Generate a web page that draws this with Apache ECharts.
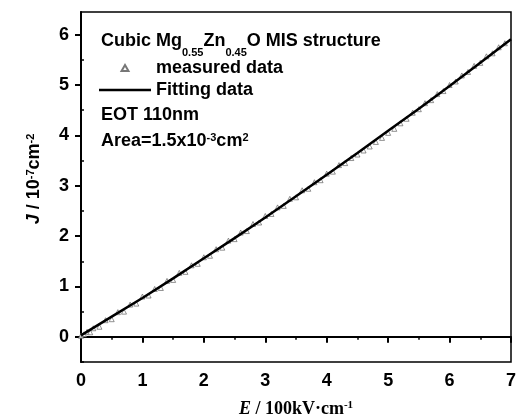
<!DOCTYPE html>
<html><head><meta charset="utf-8">
<script src="https://cdn.jsdelivr.net/npm/echarts@6/dist/echarts.min.js"></script>
<style>html,body{margin:0;padding:0;background:#fff}#c{width:517px;height:415px}</style>
</head><body><div id="c"></div>
<script>
// measured data (E in 100kV/cm, J in 1e-7 A/cm^2)
const eMeasured = [0.00,0.05,0.10,0.15,0.20,0.30,0.40,0.50,0.60,0.70,0.80,0.90,1.00,1.10,1.20,1.30,1.40,1.50,1.60,1.70,1.80,1.90,2.00,2.10,2.20,2.30,2.40,2.50,2.60,2.70,2.80,2.90,3.00,3.10,3.20,3.30,3.40,3.50,3.60,3.70,3.80,3.90,4.00,4.10,4.20,4.30,4.40,4.50,4.60,4.70,4.80,4.90,5.00,5.10,5.20,5.30,5.40,5.50,5.60,5.70,5.80,5.90,6.00,6.10,6.20,6.30,6.40,6.50,6.60,6.70,6.80,6.90];
const jMeasured = [0.02,0.05,0.10,0.09,0.17,0.20,0.33,0.35,0.49,0.50,0.64,0.66,0.80,0.82,0.95,0.97,1.11,1.13,1.27,1.29,1.42,1.45,1.58,1.61,1.74,1.77,1.91,1.94,2.07,2.10,2.24,2.27,2.40,2.44,2.57,2.60,2.74,2.77,2.91,2.94,3.07,3.11,3.24,3.28,3.41,3.45,3.55,3.62,3.70,3.78,3.87,3.95,4.05,4.13,4.24,4.33,4.45,4.52,4.64,4.70,4.82,4.88,5.00,5.07,5.19,5.26,5.38,5.44,5.57,5.63,5.75,5.83];
// fitting curve
const eFit = [0,0.5,1.0,1.5,2.0,2.5,3.0,3.5,4.0,4.5,5.0,5.5,6.0,6.5,7.0];
const jFit = [0.03,0.40,0.77,1.16,1.56,1.96,2.37,2.79,3.22,3.65,4.09,4.53,4.98,5.44,5.91];
// axis ticks
const yTicks = [0,1,2,3,4,5,6];
const yMinorTicks = [-0.5,0.5,1.5,2.5,3.5,4.5,5.5];

const SANS = 'Liberation Sans, Arial, sans-serif';
const SERIF = 'Liberation Serif, Times New Roman, serif';

const chart = echarts.init(document.getElementById('c'), null, {renderer:'canvas'});
const mainTok = {fontSize:18, fontWeight:'bold', fontFamily:SANS, color:'#000', verticalAlign:'top', lineHeight:22};
const subTok = {fontSize:11, fontWeight:'bold', fontFamily:SANS, color:'#000', verticalAlign:'top', lineHeight:10, padding:[15,0,0,0]};
const supTok = {fontSize:11, fontWeight:'bold', fontFamily:SANS, color:'#000', verticalAlign:'top', lineHeight:10, padding:[0,0,0,0]};

chart.setOption({
  animation:false,
  backgroundColor:'#fff',
  grid:{left:81, right:6, top:12, bottom:53, show:true, borderColor:'#000', borderWidth:1.5, backgroundColor:'transparent', outerBoundsMode:'none', containLabel:false},
  xAxis:{
    type:'value', min:0, max:7, interval:1,
    name:'{i|E} / 100kV·cm{s|-1}', nameLocation:'middle', nameGap:38,
    nameTextStyle:{fontSize:18, fontWeight:'bold', fontFamily:SERIF, color:'#000',
      rich:{i:{fontSize:18, fontWeight:'bold', fontStyle:'italic', fontFamily:SERIF, color:'#000'},
            s:{fontSize:11, fontWeight:'bold', fontFamily:SERIF, color:'#000', verticalAlign:'top', lineHeight:10}}},
    axisLine:{show:true, lineStyle:{color:'#000', width:2}},
    axisTick:{show:true, inside:false, length:6, lineStyle:{color:'#000', width:2}},
    minorTick:{show:true, splitNumber:2, length:3, lineStyle:{color:'#000', width:1.5}},
    axisLabel:{margin:10, fontSize:18, fontWeight:'bold', fontFamily:SANS, color:'#000'},
    splitLine:{show:false}
  },
  yAxis:[{
    type:'value', min:-0.5, max:6.45, position:'left',
    name:'{i|J} / 10{s|-7}cm{s|-2}', nameLocation:'middle', nameGap:38, nameRotate:90,
    nameTextStyle:{fontSize:18, fontWeight:'bold', fontFamily:SANS, color:'#000', padding:[0,0,0,16],
      rich:{i:{fontSize:18, fontWeight:'bold', fontStyle:'italic', fontFamily:SANS, color:'#000'},
            s:{fontSize:11, fontWeight:'bold', fontFamily:SANS, color:'#000', verticalAlign:'top', lineHeight:10}}},
    axisLine:{show:true, lineStyle:{color:'#000', width:2}},
    axisTick:{show:true, inside:false, length:6, customValues:yTicks, lineStyle:{color:'#000', width:2}},
    axisLabel:{margin:12, fontSize:18, fontWeight:'bold', fontFamily:SANS, color:'#000', customValues:yTicks},
    splitLine:{show:false}
  },{
    type:'value', min:-0.5, max:6.45, position:'left',
    axisLine:{show:false},
    axisTick:{show:true, inside:true, length:3, customValues:yMinorTicks, lineStyle:{color:'#000', width:1.5}},
    axisLabel:{show:false},
    splitLine:{show:false}
  }],
  legend:{
    orient:'vertical', left:94, top:54, itemWidth:52, itemHeight:6, itemGap:4,
    symbolKeepAspect:true,
    textStyle:{fontSize:18, fontWeight:'bold', fontFamily:SANS, color:'#000'},
    data:[
      {name:'measured data', icon:'path://M5,0L10,8.66L0,8.66Z'},
      {name:'Fitting data', icon:'path://M0,0H52V2.6H0Z'}
    ]
  },
  graphic:[
    {type:'text', left:101, top:32, style:{
      text:'{m|Cubic Mg}{b|0.55}{m|Zn}{b|0.45}{m|O MIS structure}',
      rich:{m:mainTok, b:subTok}}},
    {type:'text', left:101, top:106, style:{
      text:'{m|EOT 110nm}', rich:{m:mainTok}}},
    {type:'text', left:101, top:132, style:{
      text:'{m|Area=1.5x10}{p|-3}{m|cm}{p|2}', rich:{m:mainTok, p:supTok}}}
  ],
  series:[
    {name:'measured data', type:'scatter', xAxisIndex:0, yAxisIndex:0,
     symbol:'triangle', symbolSize:5,
     itemStyle:{color:'#fff', borderColor:'#555', borderWidth:0.8},
     data:eMeasured.map((e,i)=>[e, jMeasured[i]]), z:2},
    {name:'Fitting data', type:'line', xAxisIndex:0, yAxisIndex:0,
     symbol:'none', showSymbol:false, smooth:false,
     lineStyle:{color:'#000', width:2.5},
     itemStyle:{color:'#000'},
     data:eFit.map((e,i)=>[e, jFit[i]]), z:3}
  ]
});
</script></body></html>
